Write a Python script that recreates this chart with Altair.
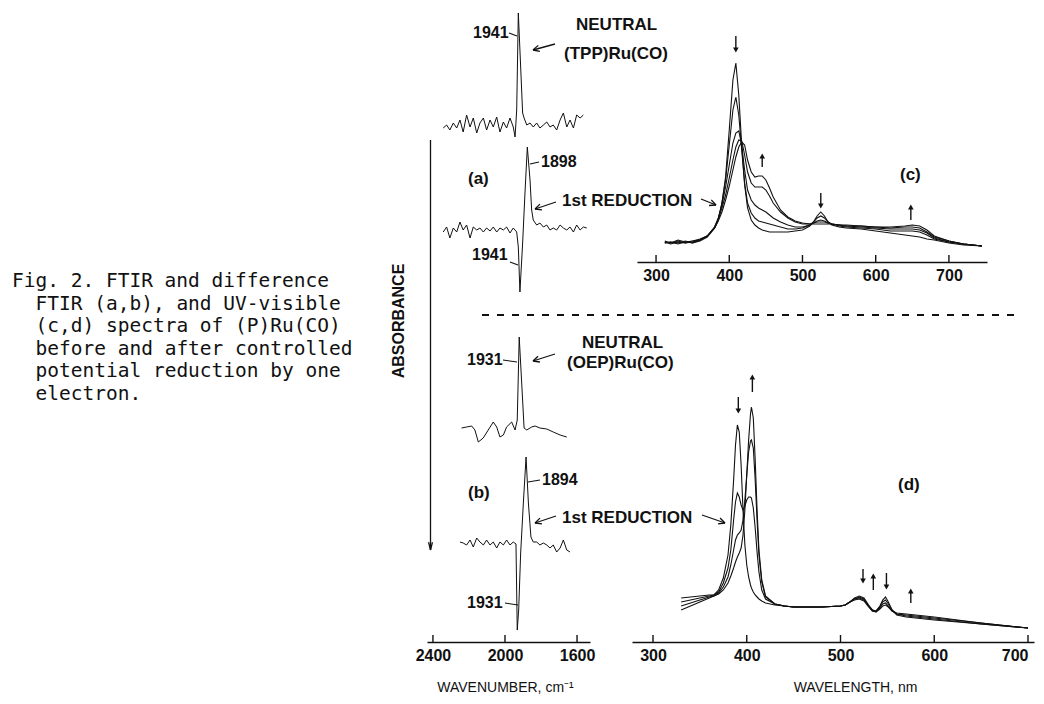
import math
import altair as alt
import pandas as pd

# ---------------- data ----------------
# FTIR spectra: wavenumber (cm-1) and relative absorbance (arbitrary units, baseline = 0)
tpp_neutral_wn = [2343, 2324, 2306, 2287, 2268, 2250, 2232, 2213, 2194, 2176, 2157, 2139, 2120, 2102, 2083,
                  2065, 2046, 2028, 2009, 1991, 1972, 1954, 1944, 1935, 1926, 1913, 1902, 1894, 1879, 1861,
                  1843, 1824, 1806, 1787, 1768, 1750, 1732, 1713, 1694, 1676, 1657, 1639, 1620, 1602, 1583, 1565]
tpp_neutral_abs = [-5, -2, -7, 0, -5, 3, -9, 8, -4, 5, -10, 0, 5, -7, 3,
                   -4, 6, -9, 1, -5, 5, -4, -14, 13, 110, 56, 10, 5, -2, 0,
                   -4, 0, -5, -2, 1, -4, -2, -7, 3, 10, -4, 3, -5, 8, 5, 8]

tpp_diff_wn = [2343, 2324, 2306, 2287, 2268, 2250, 2232, 2213, 2194, 2176, 2157, 2139, 2120, 2102, 2083,
               2065, 2046, 2028, 2009, 1991, 1972, 1954, 1935, 1926, 1917, 1902, 1889, 1876, 1861, 1852,
               1843, 1824, 1806, 1787, 1768, 1750, 1732, 1713, 1694, 1676, 1657, 1639, 1620, 1602, 1583,
               1565, 1546]
tpp_diff_abs = [-4, 1, -10, 0, -4, 6, -2, 3, -10, 1, -2, 0, -4, 0, -3,
                1, -4, 0, -2, 1, -5, 0, -4, -19, -64, -15, 35, 81, 48, 18,
                8, 3, 5, 1, 3, -2, 0, -2, 3, 0, -2, 1, -4, 3, -2,
                1, 0]

oep_neutral_wn = [2241, 2213, 2185, 2167, 2148, 2121, 2093, 2065, 2046, 2028, 2009, 1991, 1963, 1944, 1932,
                  1921, 1906, 1894, 1879, 1852, 1833, 1806, 1768, 1732, 1694, 1657]
oep_neutral_abs = [2, 3, 4, 0, -12, -8, 0, 8, 3, -7, -5, 3, 8, 0, 10,
                   93, 43, 2, 0, 3, 4, 2, 1, -2, -5, -7]

oep_diff_wn = [2250, 2232, 2213, 2194, 2176, 2157, 2139, 2120, 2102, 2083, 2065, 2046, 2028, 2009, 1991,
               1972, 1954, 1939, 1932, 1924, 1913, 1898, 1883, 1870, 1856, 1843, 1824, 1806, 1787, 1768,
               1750, 1732, 1713, 1694, 1676, 1657, 1639]
oep_diff_abs = [1, 0, -2, 3, -4, 5, 1, -2, 3, -2, 1, -5, 1, -2, 3,
                -2, 1, -1, -87, -67, -10, 40, 86, 40, 6, 1, 1, -2, 0, -2,
                -5, -2, -9, -5, 3, -7, -9]

# UV-visible (c): (TPP)Ru(CO), wavelength (nm) and absorbance (arbitrary units)
uv_c_nm = [312, 320, 330, 340, 350, 360, 370, 380, 385, 390, 395, 400, 405, 409, 413, 417, 421, 425, 430, 435,
           440, 445, 450, 455, 460, 470, 480, 490, 500, 510, 515, 520, 525, 530, 535, 540, 550, 560, 580, 600,
           620, 640, 650, 660, 670, 680, 700, 720, 745]
uv_c_neutral = [21, 19, 22, 20, 21, 23, 26, 34, 42, 59, 85, 132, 182, 199, 167, 117, 77, 54, 42, 37,
                34, 32, 31, 30, 30, 30, 30, 31, 32, 36, 40, 46, 50, 46, 40, 37, 35, 34, 33, 31,
                29, 27, 26, 25, 23, 22, 19, 17, 16]
uv_c_step1 = [20, 19, 21, 19, 20, 22, 26, 34, 43, 59, 82, 117, 152, 165, 147, 112, 79, 59, 49, 44,
              41, 40, 39, 38, 37, 35, 33, 33, 34, 37, 40, 44, 46, 44, 40, 38, 36, 35, 34, 33,
              31, 31, 31, 30, 27, 23, 20, 18, 16]
uv_c_step2 = [19, 20, 18, 20, 19, 22, 26, 35, 44, 57, 75, 97, 119, 129, 131, 117, 92, 72, 62, 57,
              54, 52, 50, 47, 44, 40, 37, 35, 35, 37, 39, 41, 42, 41, 39, 38, 37, 36, 35, 34,
              33, 33, 33, 32, 29, 24, 20, 18, 16]
uv_c_step3 = [20, 18, 20, 19, 21, 22, 26, 35, 43, 54, 67, 84, 102, 115, 122, 121, 107, 90, 79, 75,
              75, 75, 72, 66, 59, 50, 44, 40, 38, 38, 39, 40, 40, 40, 39, 38, 37, 36, 36, 35,
              34, 35, 35, 34, 30, 25, 21, 18, 16]
uv_c_reduced = [19, 20, 19, 21, 19, 21, 25, 34, 41, 50, 62, 76, 92, 105, 115, 120, 117, 102, 90, 85,
                86, 86, 82, 74, 65, 52, 45, 41, 39, 38, 38, 38, 38, 38, 38, 38, 37, 37, 36, 35,
                35, 36, 37, 36, 32, 26, 21, 18, 16]

# UV-visible (d): (OEP)Ru(CO)
uv_d_nm = [330, 340, 350, 360, 365, 370, 375, 380, 383, 386, 388, 390, 392, 394, 396, 398, 400, 402, 404, 405,
           407, 409, 411, 413, 416, 420, 430, 440, 450, 460, 480, 500, 505, 510, 515, 520, 525, 530, 534, 538,
           542, 545, 548, 551, 555, 560, 570, 580, 600, 650, 700]
uv_d_neutral = [44, 45, 46, 47, 47, 52, 64, 87, 117, 162, 197, 217, 210, 177, 132, 97, 77, 65, 57, 54,
                50, 47, 45, 43, 41, 39, 37, 36, 35, 35, 35, 36, 37, 40, 44, 46, 44, 37, 32, 31,
                36, 42, 45, 40, 32, 27, 25, 24, 22, 18, 14]
uv_d_step1 = [40, 42, 44, 46, 47, 50, 59, 74, 92, 122, 140, 149, 145, 137, 132, 136, 142, 145, 145, 144,
              134, 114, 90, 70, 52, 43, 38, 36, 35, 35, 35, 36, 37, 40, 43, 45, 43, 36, 32, 31,
              35, 40, 42, 38, 32, 28, 26, 25, 23, 18, 14]
uv_d_step2 = [36, 39, 42, 45, 46, 49, 55, 65, 77, 92, 102, 107, 109, 112, 122, 142, 167, 190, 201, 202,
              194, 162, 122, 87, 60, 45, 38, 36, 35, 35, 35, 36, 37, 40, 43, 44, 42, 36, 31, 30,
              34, 38, 39, 36, 31, 28, 27, 26, 24, 19, 14]
uv_d_reduced = [32, 36, 40, 44, 46, 48, 52, 59, 66, 74, 80, 85, 89, 94, 107, 132, 167, 202, 228, 235,
                224, 182, 132, 92, 62, 46, 38, 36, 35, 35, 35, 36, 37, 40, 42, 43, 41, 35, 31, 30,
                33, 36, 37, 35, 31, 29, 28, 27, 25, 19, 14]

ftir_ticks = [2400, 2000, 1600]
uv_ticks = [300, 400, 500, 600, 700]

# change arrows on the UV-vis panels: wavelength, tail and head absorbance, direction
c_arrow_nm = [409, 445, 525, 648]
c_arrow_tail = [226, 95, 69, 42]
c_arrow_head = [212, 106, 56, 55]
c_arrow_dir = ["down", "up", "down", "up"]
d_arrow_nm = [391, 406, 524, 535, 549, 575]
d_arrow_tail = [245, 250, 73, 52, 69, 39]
d_arrow_head = [231, 265, 61, 66, 55, 51]
d_arrow_dir = ["down", "up", "down", "up", "down", "up"]

caption_lines = [
    "Fig. 2. FTIR and difference",
    "FTIR (a,b), and UV-visible",
    "(c,d) spectra of (P)Ru(CO)",
    "before and after controlled",
    "potential reduction by one",
    "electron.",
]

# ---------------- layout ----------------
W, H = 1028, 686
OFF = 8
SANS = "Liberation Sans"
MONO = "DejaVu Sans Mono"
INK = "#111111"


def P(v):
    return v - OFF


ONE = pd.DataFrame({"k": [0]})

ftir_x = alt.Scale(domain=[2433, 1528], range=[P(427), P(590)], nice=False, zero=False)
c_x = alt.Scale(domain=[274, 752], range=[P(637), P(987)], nice=False, zero=False)
c_y = alt.Scale(domain=[0, 230], range=[P(262), P(262) - 230], nice=False, zero=False)
d_x = alt.Scale(domain=[277.6, 706.4], range=[P(632), P(1034)], nice=False, zero=False)
d_y = alt.Scale(domain=[0, 280], range=[P(642), P(642) - 280], nice=False, zero=False)


def bottom_axis(values, axis_y, title=None, title_x=None, flush=False):
    kw = dict(values=values, format="d", orient="bottom", offset=P(axis_y) - H, ticks=False,
              domainColor=INK, domainWidth=1.6, labelFont=SANS, labelFontSize=16, labelFontWeight="bold",
              labelColor=INK, labelPadding=13, labelBaseline="middle", labelFlush=flush,
              labelOverlap=False, grid=False)
    if title:
        kw.update(title=title, titleFont=SANS, titleFontSize=14, titleFontWeight="normal", titleColor=INK,
                  titleX=P(title_x), titleY=45, titleBaseline="middle", titleAlign="center")
    else:
        kw.update(title=None)
    return alt.Axis(**kw)


def label(text, x, y, size=17, font=SANS, align="left", angle=None, weight="bold"):
    kw = dict(align=align, baseline="middle", font=font, fontSize=size, color=INK, fontWeight=weight)
    if angle is not None:
        kw["angle"] = angle
    return alt.Chart(pd.DataFrame({"t": [text]})).mark_text(**kw).encode(
        x=alt.value(P(x)), y=alt.value(P(y)), text="t:N")


def seg(x1, y1, x2, y2, w=1.3):
    return alt.Chart(ONE).mark_rule(color=INK, strokeWidth=w).encode(
        x=alt.value(P(x1)), y=alt.value(P(y1)), x2=alt.value(P(x2)), y2=alt.value(P(y2)))


def arrow(x1, y1, x2, y2, head=7, ang=26, w=1.3):
    out = [seg(x1, y1, x2, y2, w)]
    dx, dy = x1 - x2, y1 - y2
    L = math.hypot(dx, dy)
    ux, uy = dx / L, dy / L
    for s in (1, -1):
        a = math.radians(ang * s)
        hx = ux * math.cos(a) - uy * math.sin(a)
        hy = ux * math.sin(a) + uy * math.cos(a)
        out.append(seg(x2, y2, x2 + head * hx, y2 + head * hy, w))
    return out


def ftir_trace(wn, ab, base_img, axis=None):
    bc = P(base_img)
    df = pd.DataFrame({"wn": wn, "a": ab})
    return alt.Chart(df).mark_line(color=INK, strokeWidth=1.0).encode(
        x=alt.X("wn:Q", scale=ftir_x, axis=axis),
        y=alt.Y("a:Q", scale=alt.Scale(domain=[-100, 120], range=[bc + 100, bc - 120], nice=False, zero=False),
                axis=None),
    )


def ticks_layer(values, scale, axis_y, field):
    df = pd.DataFrame({field: values})
    return alt.Chart(df).mark_rule(color=INK, strokeWidth=1.4).encode(
        x=alt.X(f"{field}:Q", scale=scale, axis=None),
        y=alt.value(P(axis_y) - 7), y2=alt.value(P(axis_y)))


def uv_df(nm, curves):
    rows = []
    for name, vals in curves:
        for n, v in zip(nm, vals):
            rows.append({"nm": n, "A": v, "curve": name})
    return pd.DataFrame(rows)


def change_arrows(nm, tail, head, dirs, xs, ys):
    df = pd.DataFrame({"nm": nm, "tail": tail, "head": head, "dir": dirs})
    shaft = alt.Chart(df).mark_rule(color=INK, strokeWidth=1.4).encode(
        x=alt.X("nm:Q", scale=xs, axis=None),
        y=alt.Y("tail:Q", scale=ys, axis=None), y2="head:Q")
    tip = alt.Chart(df).mark_point(filled=True, size=32, color=INK, opacity=1).encode(
        x=alt.X("nm:Q", scale=xs, axis=None),
        y=alt.Y("head:Q", scale=ys, axis=None),
        shape=alt.Shape("dir:N", scale=alt.Scale(domain=["down", "up"], range=["triangle-down", "triangle-up"]),
                        legend=None))
    return [shaft, tip]


layers = []

# FTIR column
layers.append(ftir_trace(tpp_neutral_wn, tpp_neutral_abs, 123))
layers.append(ftir_trace(tpp_diff_wn, tpp_diff_abs, 228))
layers.append(ftir_trace(oep_neutral_wn, oep_neutral_abs, 430))
layers.append(ftir_trace(oep_diff_wn, oep_diff_abs, 543,
                         axis=bottom_axis(ftir_ticks, 642, "WAVENUMBER, cm\u207b\u00b9", 505)))
layers.append(ticks_layer(ftir_ticks, ftir_x, 642, "wn"))

# UV-vis (c)
df_c = uv_df(uv_c_nm, [("neutral", uv_c_neutral), ("s1", uv_c_step1), ("s2", uv_c_step2),
                       ("s3", uv_c_step3), ("reduced", uv_c_reduced)])
layers.append(alt.Chart(df_c).mark_line(color=INK, strokeWidth=1.1).encode(
    x=alt.X("nm:Q", scale=c_x, axis=bottom_axis(uv_ticks, 262)),
    y=alt.Y("A:Q", scale=c_y, axis=None),
    detail="curve:N"))
layers.append(ticks_layer(uv_ticks, c_x, 262, "nm"))
layers += change_arrows(c_arrow_nm, c_arrow_tail, c_arrow_head, c_arrow_dir, c_x, c_y)

# UV-vis (d)
df_d = uv_df(uv_d_nm, [("neutral", uv_d_neutral), ("s1", uv_d_step1), ("s2", uv_d_step2),
                       ("reduced", uv_d_reduced)])
layers.append(alt.Chart(df_d).mark_line(color=INK, strokeWidth=1.1).encode(
    x=alt.X("nm:Q", scale=d_x, axis=bottom_axis(uv_ticks, 642, "WAVELENGTH, nm", 855, flush=9)),
    y=alt.Y("A:Q", scale=d_y, axis=None),
    detail="curve:N"))
layers.append(ticks_layer(uv_ticks, d_x, 642, "nm"))
layers += change_arrows(d_arrow_nm, d_arrow_tail, d_arrow_head, d_arrow_dir, d_x, d_y)

# dashed divider
layers.append(alt.Chart(ONE).mark_rule(color=INK, strokeWidth=2, strokeDash=[7, 8]).encode(
    x=alt.value(P(482)), x2=alt.value(P(1015)), y=alt.value(P(315))))

# absorbance arrow and label
layers += arrow(430.5, 140, 430.5, 550, head=8, ang=14, w=1.3)
layers.append(label("ABSORBANCE", 399, 321, size=16, align="center", angle=270))

# peak labels with leader ticks
layers.append(label("1941", 473, 33, size=16))
layers.append(seg(509, 33, 517, 36, 1.1))
layers.append(label("1898", 541, 162, size=16))
layers.append(seg(530, 164, 539, 162, 1.1))
layers.append(label("1941", 472, 255, size=16))
layers.append(seg(510, 262, 518, 265, 1.1))
layers.append(label("1931", 467, 360, size=16))
layers.append(seg(503, 360, 517, 362, 1.1))
layers.append(label("1894", 542, 480, size=16))
layers.append(seg(528, 482, 540, 480, 1.1))
layers.append(label("1931", 467, 603, size=16))
layers.append(seg(505, 603, 518, 605, 1.1))

# panel letters
layers.append(label("(a)", 468, 179))
layers.append(label("(b)", 468, 493))
layers.append(label("(c)", 900, 175))
layers.append(label("(d)", 898, 485))

# state labels and pointing arrows
layers.append(label("NEUTRAL", 576, 25))
layers.append(label("(TPP)Ru(CO)", 564, 54))
layers += arrow(555, 44, 533, 50)
layers.append(label("1st REDUCTION", 562, 201))
layers += arrow(556, 202, 535, 209)
layers += arrow(701, 199, 716, 205)
layers.append(label("NEUTRAL", 582, 343))
layers.append(label("(OEP)Ru(CO)", 567, 363))
layers += arrow(555, 354, 533, 361)
layers.append(label("1st REDUCTION", 562, 518))
layers += arrow(556, 516, 535, 523)
layers += arrow(702, 515, 725, 523)

# figure caption
cap_y0, cap_dy = 281, 22.5
layers.append(label(caption_lines[0], 12, cap_y0, size=19.5, font=MONO, weight="normal"))
for i, line in enumerate(caption_lines[1:], start=1):
    layers.append(label(line, 35.5, cap_y0 + i * cap_dy, size=19.5, font=MONO, weight="normal"))

chart = alt.layer(*layers).resolve_scale(
    x="independent", y="independent"
).properties(
    width=W, height=H, autosize=alt.AutoSizeParams(type="none"), padding=0
).configure_view(stroke=None)

chart.save("out.html", embed_options={"renderer": "svg", "actions": False})
